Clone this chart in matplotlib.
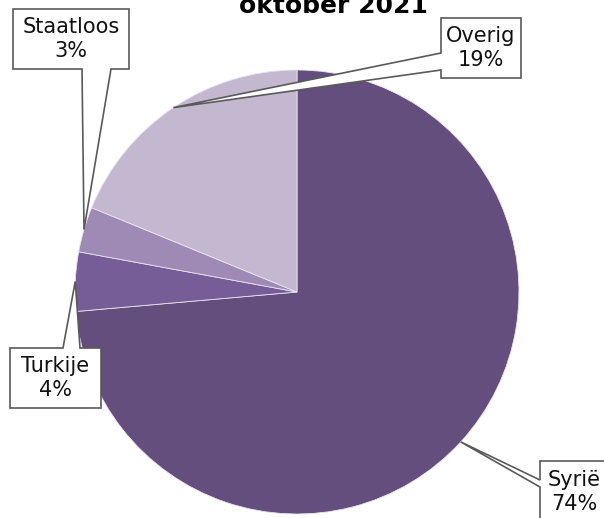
import matplotlib
matplotlib.use("Agg")
import matplotlib.pyplot as plt
import numpy as np
from matplotlib.patches import Polygon

# data (clockwise from top)
labels = ["Syrië", "Turkije", "Staatloos", "Overig"]
shares = [73.6, 4.3, 3.3, 18.8]
pct_labels = ["74%", "4%", "3%", "19%"]
colors = ["#634e7e", "#775d97", "#9e8ab5", "#c3b8d0"]

W, H = 604, 518
CX, CY, R = 297, 292, 222


def px(x, y):
    return ((x - CX) / R, (CY - y) / R)


fig = plt.figure(figsize=(W / 100, H / 100), dpi=100)
ax = fig.add_axes([0, 0, 1, 1])
wedges, _ = ax.pie(shares, colors=colors, startangle=90, counterclock=False,
                   radius=1.0, center=(0, 0),
                   wedgeprops=dict(edgecolor="#e8e4ee", linewidth=0.6))
ax.set_xlim(-CX / R, (W - CX) / R)
ax.set_ylim((CY - H) / R, CY / R)
ax.set_aspect("equal")
ax.axis("off")

# callout boxes: (x0, y0, x1, y1) in pixels, side of pointer, pointer base
boxes = {
    "Syrië": ((540, 461, 660, 560), "left", (480, 487)),
    "Turkije": ((10, 348, 101, 408), "top", (63, 80)),
    "Staatloos": ((13, 9, 129, 69), "bottom", (82, 111)),
    "Overig": ((441, 18, 521, 78), "left", (53, 70)),
}

for w, lab, pct in zip(wedges, labels, pct_labels):
    mid = np.deg2rad((w.theta1 + w.theta2) / 2)
    tip = (np.cos(mid), np.sin(mid))
    (x0, y0, x1, y1), side, (b0, b1) = boxes[lab]
    if side == "left":
        pts = [(x0, y0), (x1, y0), (x1, y1), (x0, y1), (x0, b1), None, (x0, b0)]
    elif side == "top":
        pts = [(x0, y0), (b0, y0), None, (b1, y0), (x1, y0), (x1, y1), (x0, y1)]
    else:
        pts = [(x0, y0), (x1, y0), (x1, y1), (b1, y1), None, (b0, y1), (x0, y1)]
    verts = [tip if p is None else px(*p) for p in pts]
    ax.add_patch(Polygon(verts, closed=True, facecolor="white", edgecolor="#5a5a5a",
                         linewidth=1.2, joinstyle="miter", zorder=3))
    if lab == "Syrië":
        tx, ty = px(548, 492)
        ax.text(tx, ty, lab + "\n" + pct, ha="left", va="center", multialignment="center",
                fontsize=15, color="#111111", zorder=4)
    else:
        tx, ty = px((x0 + x1) / 2, (y0 + y1) / 2)
        ax.text(tx, ty, lab + "\n" + pct, ha="center", va="center", multialignment="center",
                fontsize=15, color="#111111", zorder=4)

tx, ty = px(333, 13)
ax.text(tx, ty, "oktober 2021", ha="center", va="baseline", fontsize=18,
        fontweight="bold", color="black")

fig.savefig("out.png", dpi=100)
